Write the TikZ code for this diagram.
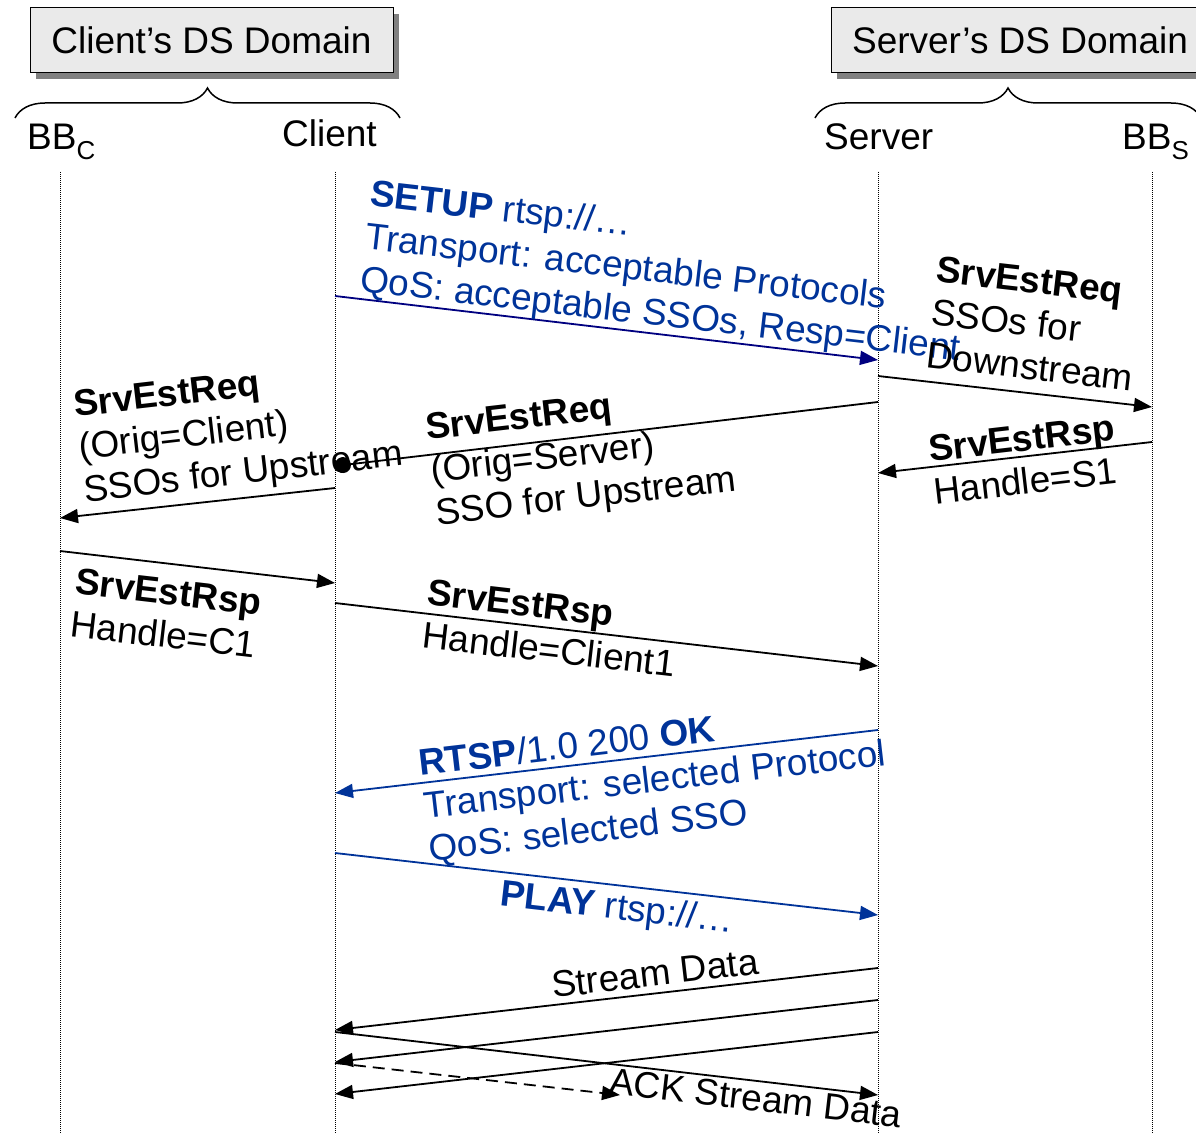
\documentclass[tikz,border=0pt]{standalone}
\usepackage{fontspec}
\setmainfont{Liberation Sans}
\usetikzlibrary{arrows.meta,decorations.pathreplacing,shadows}

\definecolor{rtspblue}{RGB}{0,51,153}
\definecolor{setupnavy}{RGB}{0,0,128}
\definecolor{domaingray}{RGB}{234,234,234}

\tikzset{
  lbl/.style={font=\fontsize{37}{43}\selectfont, inner sep=0pt},
  msgtext/.style={lbl, align=left, anchor=north west},
  domainbox/.style={lbl, draw, line width=1pt, fill=domaingray, minimum height=65pt,
    drop shadow={shadow xshift=6pt, shadow yshift=-6pt, fill=black!50, opacity=1}},
  domainbrace/.style={decorate, decoration={brace, amplitude=30pt}, line width=1.5pt},
  lifeline/.style={densely dotted, line width=1pt},
  msg/.style={line width=1.8pt, -{Triangle[length=18pt,width=14pt]}},
}

\begin{document}
\begin{tikzpicture}[x=1pt, y=-1pt]
  \useasboundingbox (0,0) rectangle (1196,1134);
  \clip (0,0) rectangle (1196,1134);

  % domains
  \node[domainbox, minimum width=363pt] (cdomain) at (211.5,40.5) {Client’s DS Domain};
  \node[domainbox, minimum width=378pt] (sdomain) at (1020,40.5) {Server’s DS Domain};
  \draw[domainbrace] (15,118) -- (400,118);
  \draw[domainbrace] (815,118) -- (1201,118);

  % participants
  \node[lbl, anchor=base west] (bbc) at (27,150) {BB\textsubscript{C}};
  \node[lbl, anchor=base west] (client) at (282,147) {Client};
  \node[lbl, anchor=base west] (server) at (824,150) {Server};
  \node[lbl, anchor=base west] (bbs) at (1122,150) {BB\textsubscript{S}};

  % lifelines
  \coordinate (lbbc) at (60,172);
  \coordinate (lcl) at (335,172);
  \coordinate (lsv) at (878,172);
  \coordinate (lbbs) at (1152,172);
  \draw[lifeline] (lbbc) -- (lbbc |- 0,1134);
  \draw[lifeline] (lcl) -- (lcl |- 0,1134);
  \draw[lifeline] (lsv) -- (lsv |- 0,1134);
  \draw[lifeline] (lbbs) -- (lbbs |- 0,1134);

  % RTSP setup
  \draw[msg, setupnavy] (lcl |- 0,296) -- (lsv |- 0,360);
  \node[msgtext, rtspblue, rotate=-6.6] (setupmsg) at (372,179)
    {\textbf{SETUP} rtsp://…\\Transport: acceptable Protocols\\QoS: acceptable SSOs, Resp=Client};

  % server side reservation
  \draw[msg] (lsv |- 0,376) -- (lbbs |- 0,407);
  \node[msgtext, rotate=-6.6] (reqbbs) at (938,256) {\textbf{SrvEstReq}\\SSOs for\\Downstream};
  \draw[msg] (lbbs |- 0,442) -- (lsv |- 0,473);
  \node[msgtext, rotate=6.6] (rspbbs) at (927,436) {\textbf{SrvEstRsp}\\Handle=S1};

  % upstream request towards the client domain
  \draw[line width=1.8pt, -{Circle[length=16pt]}] (lsv |- 0,402) -- (lcl |- 0,466);
  \node[msgtext, rotate=6.6] (reqcl) at (424,414) {\textbf{SrvEstReq}\\(Orig=Server)\\SSO for Upstream};
  \draw[msg] (lcl |- 0,488) -- (lbbc |- 0,518);
  \node[msgtext, rotate=6.6] (reqbbc) at (72,391) {\textbf{SrvEstReq}\\(Orig=Client)\\SSOs for Upstream};

  % responses
  \draw[msg] (lbbc |- 0,551) -- (lcl |- 0,583);
  \node[msgtext, rotate=-6.6] (rspbbc) at (77,568) {\textbf{SrvEstRsp}\\Handle=C1};
  \draw[msg] (lcl |- 0,603) -- (lsv |- 0,666);
  \node[msgtext, rotate=-6.6] (rspsv) at (429,579) {\textbf{SrvEstRsp}\\Handle=Client1};

  % RTSP reply and play
  \draw[msg, rtspblue] (lsv |- 0,730) -- (lcl |- 0,793);
  \node[msgtext, rtspblue, rotate=6.6] (okmsg) at (417,749)
    {\textbf{RTSP}/1.0 200 \textbf{OK}\\Transport: selected Protocol\\QoS: selected SSO};
  \draw[msg, rtspblue] (lcl |- 0,853) -- (lsv |- 0,915);
  \node[msgtext, rtspblue, rotate=-6.6] (playmsg) at (502,879) {\textbf{PLAY} rtsp://…};

  % data and acks
  \draw[msg] (lsv |- 0,968) -- (lcl |- 0,1030);
  \draw[msg] (lsv |- 0,1000) -- (lcl |- 0,1062);
  \draw[msg] (lsv |- 0,1032) -- (lcl |- 0,1094);
  \node[msgtext, rotate=6.6] (streammsg) at (550,972) {Stream Data};
  \coordinate (ackend) at (620,1095);
  \draw[msg] (lcl |- 0,1032) -- (lsv |- 0,1095);
  \draw[msg, dash pattern=on 12pt off 7pt] (lcl |- 0,1063) -- (ackend);
  \node[msgtext, rotate=-6.6] (ackmsg) at (611,1068) {ACK Stream Data};
\end{tikzpicture}
\end{document}
